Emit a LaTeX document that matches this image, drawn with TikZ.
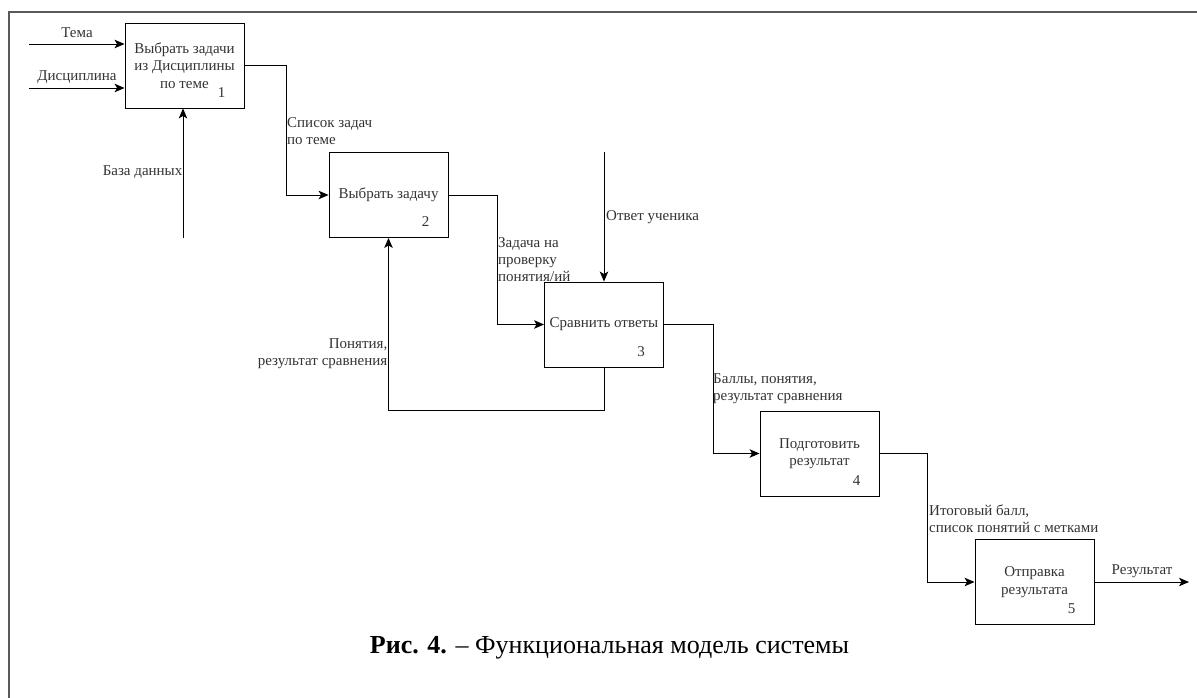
\documentclass[tikz,border=0pt]{standalone}
\usepackage{fontspec}
\setmainfont{Liberation Serif}
\usetikzlibrary{arrows.meta,calc}
\begin{document}
\begin{tikzpicture}[x=1pt,y=-1pt,
  fbox/.style={draw=black,line width=0.9pt,minimum width=119pt,minimum height=85pt,inner sep=0pt,
    align=center,text=black!80,font=\fontsize{15}{17.5}\selectfont},
  num/.style={text=black!80,font=\fontsize{15}{17}\selectfont,inner sep=0pt},
  lbl/.style={text=black!80,font=\fontsize{15}{17}\selectfont,inner sep=0pt},
  arr/.style={draw=black,line width=0.9pt,-{Stealth[length=10pt,width=8.5pt,inset=2.5pt]}},
  frame/.style={draw=black!65,line width=1.4pt}]
\useasboundingbox (0,0) rectangle (1197,698);
% frame
\coordinate (ftop) at (1197,12);
\coordinate (fcorner) at (9,12);
\coordinate (fbot) at (9,698);
\draw[frame] (ftop) -- (fcorner) -- (fbot);
% boxes
\node[fbox] (b1) at (184.5,65.5) {Выбрать задачи\\из Дисциплины\\по теме};
\node[fbox] (b2) at (388.5,195) {Выбрать задачу};
\node[fbox] (b3) at (604,324.5) {Сравнить ответы};
\node[fbox] (b4) at (819.5,453.5) {Подготовить\\результат};
\node[fbox] (b5) at (1034.5,582) {Отправка\\результата};
% numbers
\node[num] (n1) at ($(b1.center)+(37,27)$) {1};
\node[num] (n2) at ($(b2.center)+(37,27)$) {2};
\node[num] (n3) at ($(b3.center)+(37,27)$) {3};
\node[num] (n4) at ($(b4.center)+(37,27)$) {4};
\node[num] (n5) at ($(b5.center)+(37,27)$) {5};
% free ends
\coordinate (tema) at (29,44);
\coordinate (disc) at (29,88);
\coordinate (bd) at (183,238);
\coordinate (otv) at (604,152);
\coordinate (res) at (1189,582);
% connectors
\draw[arr] (tema) -- (tema -| b1.west);
\draw[arr] (disc) -- (disc -| b1.west);
\draw[arr] (bd) -- (bd |- b1.south);
\draw[arr] (b1.east) -- ++(42,0) |- (b2.west);
\draw[arr] (b2.east) -- ++(49,0) |- (b3.west);
\draw[arr] (otv) -- (b3.north);
\draw[arr] (b3.south) -- ++(0,43) -| (b2.south);
\draw[arr] (b3.east) -- ++(49,0) |- (b4.west);
\draw[arr] (b4.east) -- ++(48,0) |- (b5.west);
\draw[arr] (b5.east) -- (res);
% labels
\node[lbl] (lt) at (77,33) {Тема};
\node[lbl] (ld) at (77,77) {Дисциплина};
\node[lbl,anchor=east] (lbd) at (182.5,172) {База данных};
\node[lbl,anchor=west,align=left] (ls) at (287,131) {Список задач\\по теме};
\node[lbl,anchor=west,align=left] (lz) at (498,259.5) {Задача на\\проверку\\понятия/ий};
\node[lbl,anchor=west] (lo) at (606,217) {Ответ ученика};
\node[lbl,anchor=east,align=right] (lp) at (387.5,353.5) {Понятия,\\результат сравнения};
\node[lbl,anchor=west,align=left] (lb) at (713,388.5) {Баллы, понятия,\\результат сравнения};
\node[lbl,anchor=west,align=left] (li) at (929,518.5) {Итоговый балл,\\список понятий с метками};
\node[lbl] (lr) at (1142,571) {Результат};
% caption
\node[inner sep=0pt,font=\fontsize{26}{30}\selectfont] (cap) at (609.5,648) {\textbf{Рис. 4.} – Функциональная модель системы};
\end{tikzpicture}
\end{document}
